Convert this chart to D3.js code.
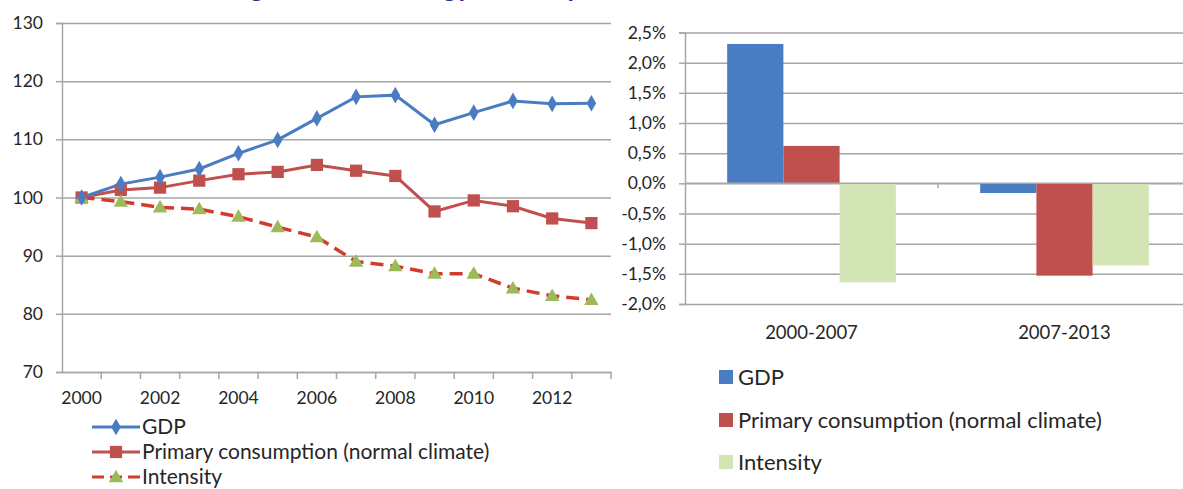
<!DOCTYPE html>
<html><head><meta charset="utf-8">
<script src="https://cdn.jsdelivr.net/npm/d3@7"></script>
<style>
html,body{margin:0;padding:0;background:#fff;}
svg{display:block;font-family:Lato,"Open Sans",sans-serif;}
</style></head>
<body>
<svg id="chart" width="1183" height="489"></svg>
<script>
// ---- data ----
const years = [2000,2001,2002,2003,2004,2005,2006,2007,2008,2009,2010,2011,2012,2013];
const gdpIndex = [100,102.3,103.5,104.9,107.6,109.9,113.6,117.3,117.6,112.5,114.6,116.6,116.1,116.2];
const consumptionIndex = [100,101.3,101.7,102.9,104.0,104.4,105.6,104.6,103.7,97.6,99.5,98.5,96.4,95.6];
const intensityIndex = [100,99.3,98.3,98.0,96.7,94.9,93.2,89.0,88.2,86.9,86.9,84.4,83.1,82.4];
const leftTicks = [70,80,90,100,110,120,130];
const yearLabels = [2000,2002,2004,2006,2008,2010,2012];

const periods = ["2000-2007","2007-2013"];
const gdpGrowth = [2.31,-0.16];
const consumptionGrowth = [0.62,-1.53];
const intensityGrowth = [-1.64,-1.36];
const pctTicks = [-2.0,-1.5,-1.0,-0.5,0.0,0.5,1.0,1.5,2.0,2.5];

const seriesNames = ["GDP","Primary consumption (normal climate)","Intensity"];
const titleText = "Economic growth and energy consumption";

// ---- styles ----
const cBlue = "#4a7cc3", cRed = "#c0504d", cDash = "#d23c2c", cGreen = "#9bbb59", cLightGreen = "#d3e4b5";
const gridColor = "#a6a6a6", textColor = "#262626";

const svg = d3.select("#chart");

// title (only bottom of it visible, cut at top as in the source)
const title = svg.append("text").attr("y", -3).attr("font-weight", "bold")
  .attr("font-size", 28).attr("fill", "#2b2d8e").text(titleText);
{
  const node = title.node();
  const i1 = titleText.indexOf("growth"), i2 = titleText.indexOf("gy");
  const d = node.getStartPositionOfChar(i2).x - node.getStartPositionOfChar(i1).x;
  const fs = 28 * 193 / d;
  title.attr("font-size", fs);
  const off = node.getStartPositionOfChar(i1).x;
  title.attr("x", 250 - off);
}

// ---------- LEFT CHART ----------
const L = {x0: 62, x1: 611, y0: 23, y1: 372};
const xL = d3.scaleBand().domain(years).range([L.x0, L.x1]);
const yL = d3.scaleLinear().domain([70,130]).range([L.y1, L.y0]);
const cx = d => xL(d) + xL.bandwidth()/2;

const gL = svg.append("g");
gL.append("g").attr("transform", `translate(${L.x0},0)`)
  .call(d3.axisLeft(yL).tickValues(leftTicks).tickSize(-(L.x1-L.x0)).tickFormat(""))
  .call(g => g.select(".domain").remove())
  .call(g => g.selectAll("line").attr("stroke", gridColor).attr("stroke-width", 1.5));
gL.append("g").attr("transform", `translate(${L.x0},0)`)
  .call(d3.axisLeft(yL).tickValues(leftTicks).tickSize(6).tickPadding(13).tickFormat(d3.format("d")))
  .call(g => g.select(".domain").attr("stroke", gridColor).attr("stroke-width", 1.5))
  .call(g => g.selectAll("line").attr("stroke", gridColor).attr("stroke-width", 1.5))
  .call(g => g.selectAll("text").attr("font-size", 17.5).attr("fill", textColor).attr("font-family", "Lato"));
gL.append("g").attr("transform", `translate(0,${L.y1})`)
  .call(d3.axisBottom(xL).tickValues(yearLabels).tickSize(0).tickPadding(20))
  .call(g => g.select(".domain").attr("stroke", gridColor).attr("stroke-width", 1.5))
  .call(g => g.selectAll("text").attr("font-size", 17.5).attr("fill", textColor).attr("font-family", "Lato"));
gL.append("g").selectAll("line").data(years.slice(1).concat(["end"])).join("line")
  .attr("x1", d => d === "end" ? L.x1 : xL(d)).attr("x2", d => d === "end" ? L.x1 : xL(d))
  .attr("y1", L.y1).attr("y2", L.y1 + 7).attr("stroke", gridColor).attr("stroke-width", 1.5);

const line = d3.line().x((d,i) => cx(years[i])).y(d => yL(d));
gL.append("path").datum(intensityIndex).attr("d", line).attr("fill", "none")
  .attr("stroke", cDash).attr("stroke-width", 3.5).attr("stroke-dasharray", "13,7");
gL.append("path").datum(consumptionIndex).attr("d", line).attr("fill", "none")
  .attr("stroke", cRed).attr("stroke-width", 3);
gL.append("path").datum(gdpIndex).attr("d", line).attr("fill", "none")
  .attr("stroke", cBlue).attr("stroke-width", 3);

const sq = d3.symbol(d3.symbolSquare, 150), dia = d3.symbol(d3.symbolDiamond, 80), tri = d3.symbol(d3.symbolTriangle, 90);
gL.append("g").selectAll("path").data(consumptionIndex).join("path")
  .attr("d", sq).attr("fill", cRed).attr("transform", (d,i) => `translate(${cx(years[i])},${yL(d)})`);
gL.append("g").selectAll("path").data(intensityIndex).join("path")
  .attr("d", tri).attr("fill", cGreen).attr("transform", (d,i) => `translate(${cx(years[i])},${yL(d)+1})`);
gL.append("g").selectAll("path").data(gdpIndex).join("path")
  .attr("d", dia).attr("fill", cBlue).attr("transform", (d,i) => `translate(${cx(years[i])},${yL(d)})`);

// left legend
const legL = svg.append("g");
const legLY = [427, 452, 477];
const legStyles = [
  {stroke: cBlue, dash: null, sym: dia, fill: cBlue},
  {stroke: cRed, dash: null, sym: sq, fill: cRed},
  {stroke: cDash, dash: "12,6", sym: tri, fill: cGreen}
];
seriesNames.forEach((name, i) => {
  const y = legLY[i], s = legStyles[i];
  legL.append("line").attr("x1", 92).attr("x2", 140).attr("y1", y).attr("y2", y)
    .attr("stroke", s.stroke).attr("stroke-width", 3).attr("stroke-dasharray", s.dash);
  legL.append("path").attr("d", s.sym).attr("fill", s.fill).attr("transform", `translate(116,${y + (i===2?1:0)})`);
  legL.append("text").attr("x", 142).attr("y", y).attr("dy", "0.35em")
    .attr("font-size", 21).attr("fill", textColor).text(name);
});

// ---------- RIGHT CHART ----------
const R = {x0: 685, x1: 1191, y0: 32.5, y1: 304};
const xR = d3.scaleBand().domain(periods).range([R.x0, R.x1]);
const seriesKeys = ["gdp","cons","int"];
const xSub = d3.scaleBand().domain(seriesKeys).range([0, xR.bandwidth()]).paddingInner(0).paddingOuter(0.75);
const yR = d3.scaleLinear().domain([-2.0, 2.5]).range([R.y1, R.y0]);
const pctFmt = d => d.toFixed(1).replace(".", ",") + "%";

const gR = svg.append("g");
gR.append("g").attr("transform", `translate(${R.x0},0)`)
  .call(d3.axisLeft(yR).tickValues(pctTicks).tickSize(-(R.x1-R.x0)).tickFormat(""))
  .call(g => g.select(".domain").remove())
  .call(g => g.selectAll("line").attr("stroke", gridColor).attr("stroke-width", 1.5));
gR.append("g").attr("transform", `translate(${R.x0},0)`)
  .call(d3.axisLeft(yR).tickValues(pctTicks).tickSize(6).tickPadding(13).tickFormat(pctFmt))
  .call(g => g.select(".domain").attr("stroke", gridColor).attr("stroke-width", 1.5))
  .call(g => g.selectAll("line").attr("stroke", gridColor).attr("stroke-width", 1.5))
  .call(g => g.selectAll("text").attr("font-size", 17.5).attr("fill", textColor).attr("font-family", "Lato"));

const barData = [];
periods.forEach((p, i) => {
  barData.push({p, k: "gdp", v: gdpGrowth[i], c: cBlue});
  barData.push({p, k: "cons", v: consumptionGrowth[i], c: cRed});
  barData.push({p, k: "int", v: intensityGrowth[i], c: cLightGreen});
});
gR.append("g").selectAll("rect").data(barData).join("rect")
  .attr("x", d => xR(d.p) + xSub(d.k)).attr("width", xSub.bandwidth())
  .attr("y", d => yR(Math.max(0, d.v))).attr("height", d => Math.abs(yR(d.v) - yR(0)))
  .attr("fill", d => d.c);

gR.append("line").attr("x1", R.x0).attr("x2", R.x1).attr("y1", yR(0)).attr("y2", yR(0))
  .attr("stroke", gridColor).attr("stroke-width", 1.5);
gR.append("line").attr("x1", xR(periods[1])).attr("x2", xR(periods[1]))
  .attr("y1", yR(0)).attr("y2", yR(0) + 5).attr("stroke", gridColor).attr("stroke-width", 1.5);
gR.append("g").attr("transform", `translate(0,${R.y1})`)
  .call(d3.axisBottom(xR).tickSize(0).tickPadding(22))
  .call(g => g.select(".domain").remove())
  .call(g => g.selectAll("text").attr("font-size", 18.5).attr("fill", textColor).attr("font-family", "Lato"));

// right legend
const legR = svg.append("g");
const legRY = [377, 420, 462];
const legRColors = [cBlue, cRed, cLightGreen];
seriesNames.forEach((name, i) => {
  const y = legRY[i];
  legR.append("rect").attr("x", 719).attr("y", y - 7).attr("width", 14).attr("height", 14).attr("fill", legRColors[i]);
  legR.append("text").attr("x", 738).attr("y", y).attr("dy", "0.35em")
    .attr("font-size", 22).attr("fill", textColor).text(name);
});
</script>
</body></html>
